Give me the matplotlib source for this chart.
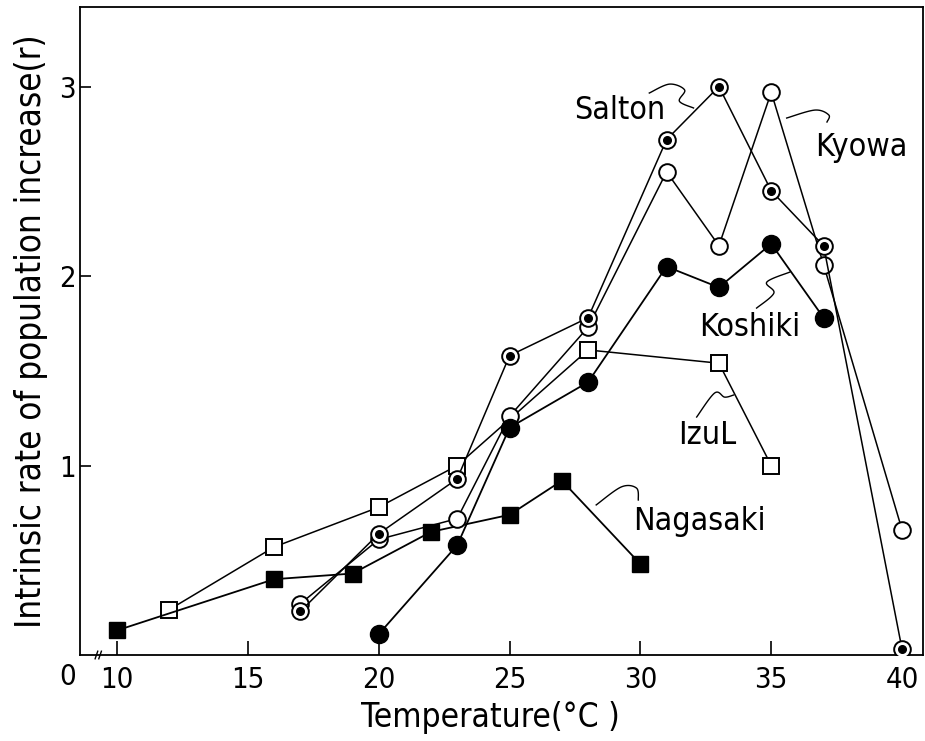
import numpy as np
import matplotlib
matplotlib.use('Agg')
import matplotlib.pyplot as plt
from matplotlib import font_manager

# 細めの書体があれば使う
names = set(f.name for f in font_manager.fontManager.ttflist)
cond = [f for f in font_manager.fontManager.ttflist if f.name == 'DejaVu Sans' and 'ondensed' in str(f.stretch) + f.fname]
if 'Liberation Sans Narrow' in names:
	plt.rcParams['font.family'] = ['Liberation Sans Narrow', 'DejaVu Sans']
elif cond:
	plt.rcParams['font.family'] = ['DejaVu Sans']
	plt.rcParams['font.stretch'] = 'condensed'

# データ
nagasaki_t = [10, 16, 19, 22, 25, 27, 30]
nagasaki_r = [0.13, 0.40, 0.43, 0.65, 0.74, 0.92, 0.48]

izu_t = [12, 16, 20, 23, 28, 33, 35]
izu_r = [0.24, 0.57, 0.78, 1.00, 1.61, 1.54, 1.00]

salton_t = [17, 20, 23, 25, 28, 31, 33, 35, 37, 40]
salton_r = [0.23, 0.64, 0.93, 1.58, 1.78, 2.72, 3.00, 2.45, 2.16, 0.03]

kyowa_t = [17, 20, 23, 25, 28, 31, 33, 35, 37, 40]
kyowa_r = [0.27, 0.61, 0.72, 1.26, 1.73, 2.55, 2.16, 2.97, 2.06, 0.66]

koshiki_t = [20, 23, 25, 28, 31, 33, 35, 37]
koshiki_r = [0.11, 0.58, 1.20, 1.44, 2.05, 1.94, 2.17, 1.78]

x_ticks = [10, 15, 20, 25, 30, 35, 40]
y_ticks = [1, 2, 3]

# ラベルと引き出し線
labels = ['Salton', 'Kyowa', 'Koshiki', 'IzuL', 'Nagasaki']
label_pos = [(27.47, 2.876), (36.67, 2.681), (32.26, 1.726), (31.46, 1.161), (29.73, 0.702)]
leaders = [
    [(30.34, 2.966), (31.11, 3.013), (31.69, 2.982), (31.49, 2.923), (32.03, 2.887)],
    [(35.59, 2.834), (36.67, 2.876), (37.20, 2.850), (37.13, 2.813)],
    [(35.71, 2.021), (34.83, 1.968), (35.10, 1.910), (34.44, 1.831)],
    [(32.15, 1.256), (32.84, 1.383), (33.22, 1.361), (33.56, 1.372)],
    [(28.31, 0.792), (29.27, 0.887), (29.85, 0.881), (29.92, 0.818)],
]


def smooth(pts, n=20):
	# Catmull-Rom で引き出し線をなめらかに
	p = np.array(pts, dtype=float)
	p = np.vstack([p[0], p, p[-1]])
	out = []
	for i in range(1, len(p) - 2):
		p0, p1, p2, p3 = p[i-1], p[i], p[i+1], p[i+2]
		for t in np.linspace(0, 1, n, endpoint=False):
			t2, t3 = t*t, t*t*t
			out.append(0.5*((2*p1) + (-p0+p2)*t + (2*p0-5*p1+4*p2-p3)*t2 + (-p0+3*p1-3*p2+p3)*t3))
	out.append(p[-2])
	return np.array(out)


fig = plt.figure(figsize=(9.25, 7.41), dpi=100)
ax = fig.add_axes([80/925, 1-655/741, (923-80)/925, (655-7)/741])

lw = 1.1
mew = 1.4
ax.plot(izu_t, izu_r, '-', color='black', lw=lw, marker='s', ms=11.5, mfc='white', mec='black', mew=mew, zorder=3)
ax.plot(nagasaki_t, nagasaki_r, '-', color='black', lw=1.3, marker='s', ms=12, mfc='black', mec='black', zorder=3)
ax.plot(kyowa_t, kyowa_r, '-', color='black', lw=lw, marker='o', ms=12, mfc='white', mec='black', mew=mew, zorder=4)
ax.plot(salton_t, salton_r, '-', color='black', lw=lw, marker='o', ms=12, mfc='white', mec='black', mew=mew, zorder=5)
ax.plot(salton_t, salton_r, 'o', color='black', ms=5.5, zorder=6)
ax.plot(koshiki_t, koshiki_r, '-', color='black', lw=1.3, marker='o', ms=13, mfc='black', mec='black', zorder=4)

for name, (lx, ly), pts in zip(labels, label_pos, leaders):
	ax.text(lx, ly, name, fontsize=23, va='center', ha='left')
	c = smooth(pts)
	ax.plot(c[:, 0], c[:, 1], color='black', lw=1.0)

ax.set_xlim(8.582, 40.80)
ax.set_ylim(0, 3.42)
ax.set_xticks(x_ticks)
ax.set_yticks(y_ticks)
ax.tick_params(direction='in', length=10, width=1.2, labelsize=21, pad=8)
ax.tick_params(axis='y', length=8, pad=3)
for s in ['top', 'right', 'left', 'bottom']:
	ax.spines[s].set_linewidth(1.3)

# 原点の0と軸の省略記号
ax.text(8.12, -0.04, '0', transform=ax.transData, fontsize=21, ha='center', va='top', clip_on=False)
ax.plot([9.16, 9.26], [-0.02, 0.02], color='black', lw=1.0, clip_on=False)
ax.plot([9.30, 9.40], [-0.02, 0.02], color='black', lw=1.0, clip_on=False)

fig.text(490/925, 1-718/741, 'Temperature(°C )', fontsize=24, ha='center', va='center')
fig.text(31/925, 1-331/741, 'Intrinsic rate of population increase(r)', fontsize=25,
	ha='center', va='center', rotation=90)

fig.savefig('out.png', dpi=100)
